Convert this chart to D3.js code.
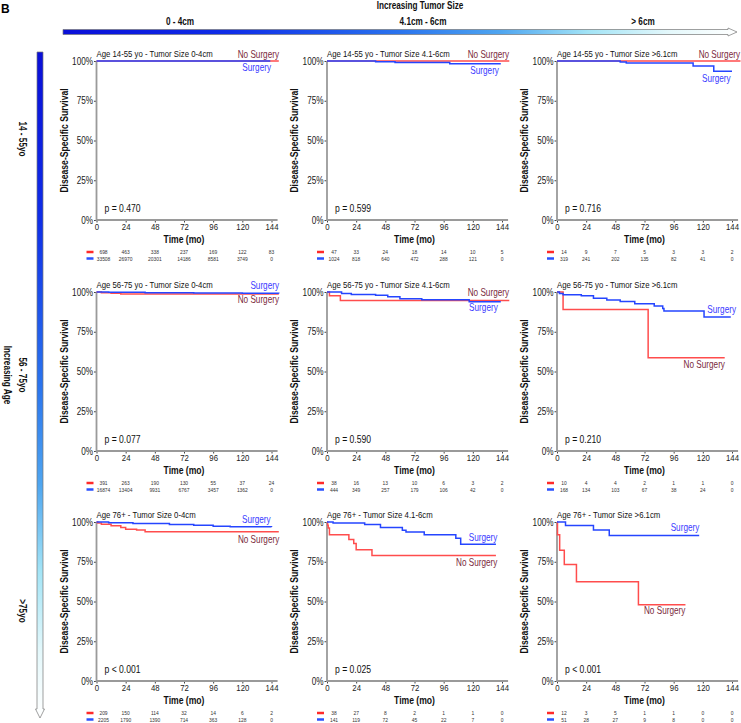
<!DOCTYPE html>
<html><head><meta charset="utf-8">
<script src="https://cdn.jsdelivr.net/npm/d3@7"></script>
<style>
body{margin:0;background:#fff;}
svg{font-family:"Liberation Sans",Arial,sans-serif;}
</style></head><body>
<svg id="c" width="741" height="723"></svg>
<script>
// ---------- data ----------
const sizeGroups = ["0 - 4cm", "4.1cm - 6cm", "> 6cm"];
const ageGroups = ["14 - 55yo", "56 - 75yo", ">75yo"];
const panelTitles = [
  "Age 14-55 yo - Tumor Size 0-4cm", "Age 14-55 yo - Tumor Size 4.1-6cm", "Age 14-55 yo - Tumor Size >6.1cm",
  "Age 56-75 yo - Tumor Size 0-4cm", "Age 56-75 yo - Tumor Size 4.1-6cm", "Age 56-75 yo - Tumor Size >6.1cm",
  "Age 76+ - Tumor Size 0-4cm", "Age 76+ - Tumor Size 4.1-6cm", "Age 76+ - Tumor Size >6.1cm"
];
const pValues = ["p = 0.470", "p = 0.599", "p = 0.716", "p = 0.077", "p = 0.590", "p = 0.210", "p < 0.001", "p = 0.025", "p < 0.001"];
const timeTicks = [0, 24, 48, 72, 96, 120, 144];
const survTicks = [0, 25, 50, 75, 100];

// survival step curves: [time (mo), survival %]
const surg_14_55_0_4 = [[0,100],[143,100]];
const nosurg_14_55_0_4 = [[0,100],[150,100]];
const surg_14_55_4_6 = [[0,100],[40,99.5],[56,99],[101,98.3],[143,98.3]];
const nosurg_14_55_4_6 = [[0,100],[150,100]];
const surg_14_55_6 = [[0,100],[52,99.3],[57,98.7],[112,96.9],[129,93.5],[144,93.5]];
const nosurg_14_55_6 = [[0,100],[151,100]];
const surg_56_75_0_4 = [[0,100],[10,99.8],[40,99.6],[80,99.4],[120,99.2],[150,99.1]];
const nosurg_56_75_0_4 = [[0,100],[4,99.6],[12,99.2],[20,98.7],[150,98.7]];
const surg_56_75_4_6 = [[0,100],[12,99],[20,98.5],[40,98],[50,97],[60,95.8],[78,95.2],[117,93.8],[143,93.8]];
const nosurg_56_75_4_6 = [[0,100],[2,97.6],[11,94.7],[150,94.7]];
const surg_56_75_6 = [[0,100],[2,99],[5,98.2],[20,97.6],[30,96],[41,95],[52,94],[64,92.6],[80,91.2],[87,89.6],[88,88],[121,84.2],[143,84.2]];
const nosurg_56_75_6 = [[0,100],[5,89],[75,58.6],[138,58.6]];
const surg_76_0_4 = [[0,100],[10,99.5],[30,99],[60,98.4],[80,97.9],[96,97.3],[110,97],[144,96.8]];
const nosurg_76_0_4 = [[0,100],[1,99.3],[4,98.6],[12,97.6],[20,96.6],[24,95.5],[33,95],[40,93.9],[150,93.9]];
const surg_76_4_6 = [[0,100],[5,99.4],[31,98.5],[44,96.5],[62,94.8],[65,93.7],[80,92],[106,89.8],[110,86],[139,86]];
const nosurg_76_4_6 = [[0,100],[0.5,98],[1,96.3],[2,92],[18,89],[22,86.5],[24,82.5],[37,79],[139,79]];
const surg_76_6 = [[0,100],[7,97.8],[30,95],[43,91.5],[117,91.5]];
const nosurg_76_6 = [[0,100],[0.4,92],[2.2,82.3],[6,73.2],[16,62.5],[67,48],[105.7,48]];

// numbers at risk at 0,24,...,144 mo
const risk_nosurg = [
  [698,463,338,237,169,122,83], [47,33,24,18,14,10,5], [14,9,7,5,3,3,2],
  [391,263,190,130,55,37,24], [38,16,13,10,6,3,2], [10,4,4,2,1,1,0],
  [209,150,114,32,14,6,2], [38,27,8,2,1,1,0], [12,3,5,1,1,0,0]
];
const risk_surg = [
  [33508,26970,20301,14186,8581,3749,0], [1024,818,640,472,288,121,0], [319,241,202,135,82,41,0],
  [16874,13404,9931,6767,3457,1362,0], [444,349,257,179,106,42,0], [168,134,103,67,38,24,0],
  [2205,1790,1390,714,363,128,0], [141,119,72,45,22,7,0], [51,28,27,9,8,0,0]
];
// curve label anchors in data units [time, survival %] (right end of text)
const labelSurgery = [[143.6,95.6],[141.5,93.9],[142.9,89.1],[150.2,103.8],[140.5,90.1],[147.3,89.1],[143.3,101.3],[140.2,90.3],[117.1,96.7]];
const labelNoSurgery = [[150.2,104.4],[149.8,104.4],[150.6,104.4],[150.2,95.4],[149.8,99.8],[138.2,54.7],[150.4,89.3],[140.2,74.7],[105.6,44.5]];

const surgeryCurves = [surg_14_55_0_4, surg_14_55_4_6, surg_14_55_6, surg_56_75_0_4, surg_56_75_4_6, surg_56_75_6, surg_76_0_4, surg_76_4_6, surg_76_6];
const noSurgeryCurves = [nosurg_14_55_0_4, nosurg_14_55_4_6, nosurg_14_55_6, nosurg_56_75_0_4, nosurg_56_75_4_6, nosurg_56_75_6, nosurg_76_0_4, nosurg_76_4_6, nosurg_76_6];

// ---------- layout ----------
const colX0 = [96.5, 327, 557];
const rowTop = [61, 292, 522];
const PW = 175, PH = 159;
const RED = "#ff4d4d", BLUE = "#2545ff";
const SX = 0.82; // emulate a narrow sans face

const svg = d3.select("#c");

// narrow text helper
function ntext(parent, x, y, s, o = {}) {
  const t = parent.append("text")
    .attr("transform", `translate(${x},${y})${o.rotate ? ` rotate(${o.rotate})` : ""} scale(${SX},1)`)
    .attr("font-size", o.size || 10)
    .attr("text-anchor", o.anchor || "start")
    .attr("fill", o.fill || "#111")
    .text(s);
  if (o.bold) t.attr("font-weight", "bold");
  if (o.dy) t.attr("dy", o.dy);
  return t;
}

const defs = svg.append("defs");
const stops = [[0,"#0a0fd8"],[0.25,"#0f2ee8"],[0.5,"#2a74ee"],[0.65,"#4fa6f0"],[0.78,"#a3e4f6"],[0.9,"#e4f8fb"],[1,"#ffffff"]];
const gh = defs.append("linearGradient").attr("id","gh").attr("x1",0).attr("x2",1).attr("y1",0).attr("y2",0);
const gv = defs.append("linearGradient").attr("id","gv").attr("x1",0).attr("x2",0).attr("y1",0).attr("y2",1);
stops.forEach(s=>{ gh.append("stop").attr("offset",s[0]).attr("stop-color",s[1]); gv.append("stop").attr("offset",s[0]).attr("stop-color",s[1]); });

// figure letter
svg.append("text").attr("x",1).attr("y",13).attr("font-size",12).attr("font-weight","bold").text("B");

// top header
ntext(svg, 420, 9, "Increasing Tumor Size", {size:10, bold:true, anchor:"middle"});
const headerX = [180, 423, 643];
sizeGroups.forEach((s,i)=>ntext(svg, headerX[i], 25, s, {size:10, bold:true, anchor:"middle"}));
svg.append("path").attr("d","M63,29.5 H728 V28 L737,32 L728,36 V34.5 H63 Z").attr("fill","url(#gh)").attr("stroke","#777").attr("stroke-width",0.7);

// left header
svg.append("path").attr("d","M37,52 H43 V709 H44.5 L40,718 L35.5,709 H37 Z").attr("fill","url(#gv)").attr("stroke","#777").attr("stroke-width",0.7);
const ageY = [139, 375, 611];
ageGroups.forEach((a,i)=>ntext(svg, 19, ageY[i], a, {size:10, bold:true, anchor:"middle", rotate:90}));
ntext(svg, 4, 375, "Increasing Age", {size:10, bold:true, anchor:"middle", rotate:90});

// panels
panelTitles.forEach((title,i)=>{
  const r = Math.floor(i/3), c = i%3;
  const x = d3.scaleLinear().domain([0,144]).range([colX0[c], colX0[c]+PW]);
  const y = d3.scaleLinear().domain([0,100]).range([rowTop[r]+PH, rowTop[r]]);
  const g = svg.append("g");

  // axes
  const xa = g.append("g").attr("transform",`translate(0,${y(0)})`)
    .call(d3.axisBottom(x).tickValues(timeTicks).tickSize(2.5).tickPadding(1));
  xa.select(".domain").remove();
  xa.selectAll("line").attr("stroke","#444");
  xa.selectAll("text").attr("font-size",9.5).attr("fill","#1a1a1a").attr("font-family",null).attr("transform",`scale(${SX},1)`);
  const ya = g.append("g").attr("transform",`translate(${x(0)},0)`)
    .call(d3.axisLeft(y).tickValues(survTicks).tickFormat(d=>d+"%").tickSize(2.5).tickPadding(1));
  ya.select(".domain").remove();
  ya.selectAll("line").attr("stroke","#444");
  ya.selectAll("text").attr("font-size",10).attr("fill","#1a1a1a").attr("font-family",null)
    .attr("x", -3.5/SX).attr("transform",`scale(${SX},1)`);
  g.append("line").attr("x1",x(0)).attr("x2",x(149)).attr("y1",y(0)).attr("y2",y(0)).attr("stroke","#9a9a9a").attr("stroke-width",1.8);
  g.append("line").attr("x1",x(0)).attr("x2",x(0)).attr("y1",y(0)+0.9).attr("y2",y(100)).attr("stroke","#9a9a9a").attr("stroke-width",1.8);

  // axis titles
  ntext(g, (x(0)+x(144))/2, y(0)+23, "Time (mo)", {size:10.5, bold:true, anchor:"middle"});
  ntext(g, x(0)-29, (y(0)+y(100))/2, "Disease-Specific Survival", {size:10.5, bold:true, anchor:"middle", rotate:-90});

  // title, p-value
  ntext(g, x(0), y(100)-4.5, title, {size:9.5});
  ntext(g, x(0)+8, y(0)-8, pValues[i], {size:10.5});

  // curves
  const line = d3.line().x(d=>x(d[0])).y(d=>y(d[1])).curve(d3.curveStepAfter);
  g.append("path").attr("d",line(noSurgeryCurves[i])).attr("fill","none").attr("stroke",RED).attr("stroke-width",1.5);
  g.append("path").attr("d",line(surgeryCurves[i])).attr("fill","none").attr("stroke",BLUE).attr("stroke-width",1.5);

  // curve labels
  ntext(g, x(labelNoSurgery[i][0]), y(labelNoSurgery[i][1]), "No Surgery", {size:10, anchor:"end", fill:"#7a2a3c", dy:"0.35em"});
  ntext(g, x(labelSurgery[i][0]), y(labelSurgery[i][1]), "Surgery", {size:10, anchor:"end", fill:"#3a3aff", dy:"0.35em"});

  // risk table
  const ry = [y(0)+32, y(0)+38.5];
  [[risk_nosurg[i], "#ff2a2a"], [risk_surg[i], "#2a50ff"]].forEach(([vals,col],k)=>{
    g.append("line").attr("x1",x(0)-10).attr("x2",x(0)-3).attr("y1",ry[k]).attr("y2",ry[k]).attr("stroke",col).attr("stroke-width",2.5);
    vals.forEach((v,j)=>{
      ntext(g, x(timeTicks[j]) + (j===0?7:0), ry[k], v, {size:6, anchor:"middle", fill:"#333", dy:"0.35em"});
    });
  });
});
</script>
</body></html>
